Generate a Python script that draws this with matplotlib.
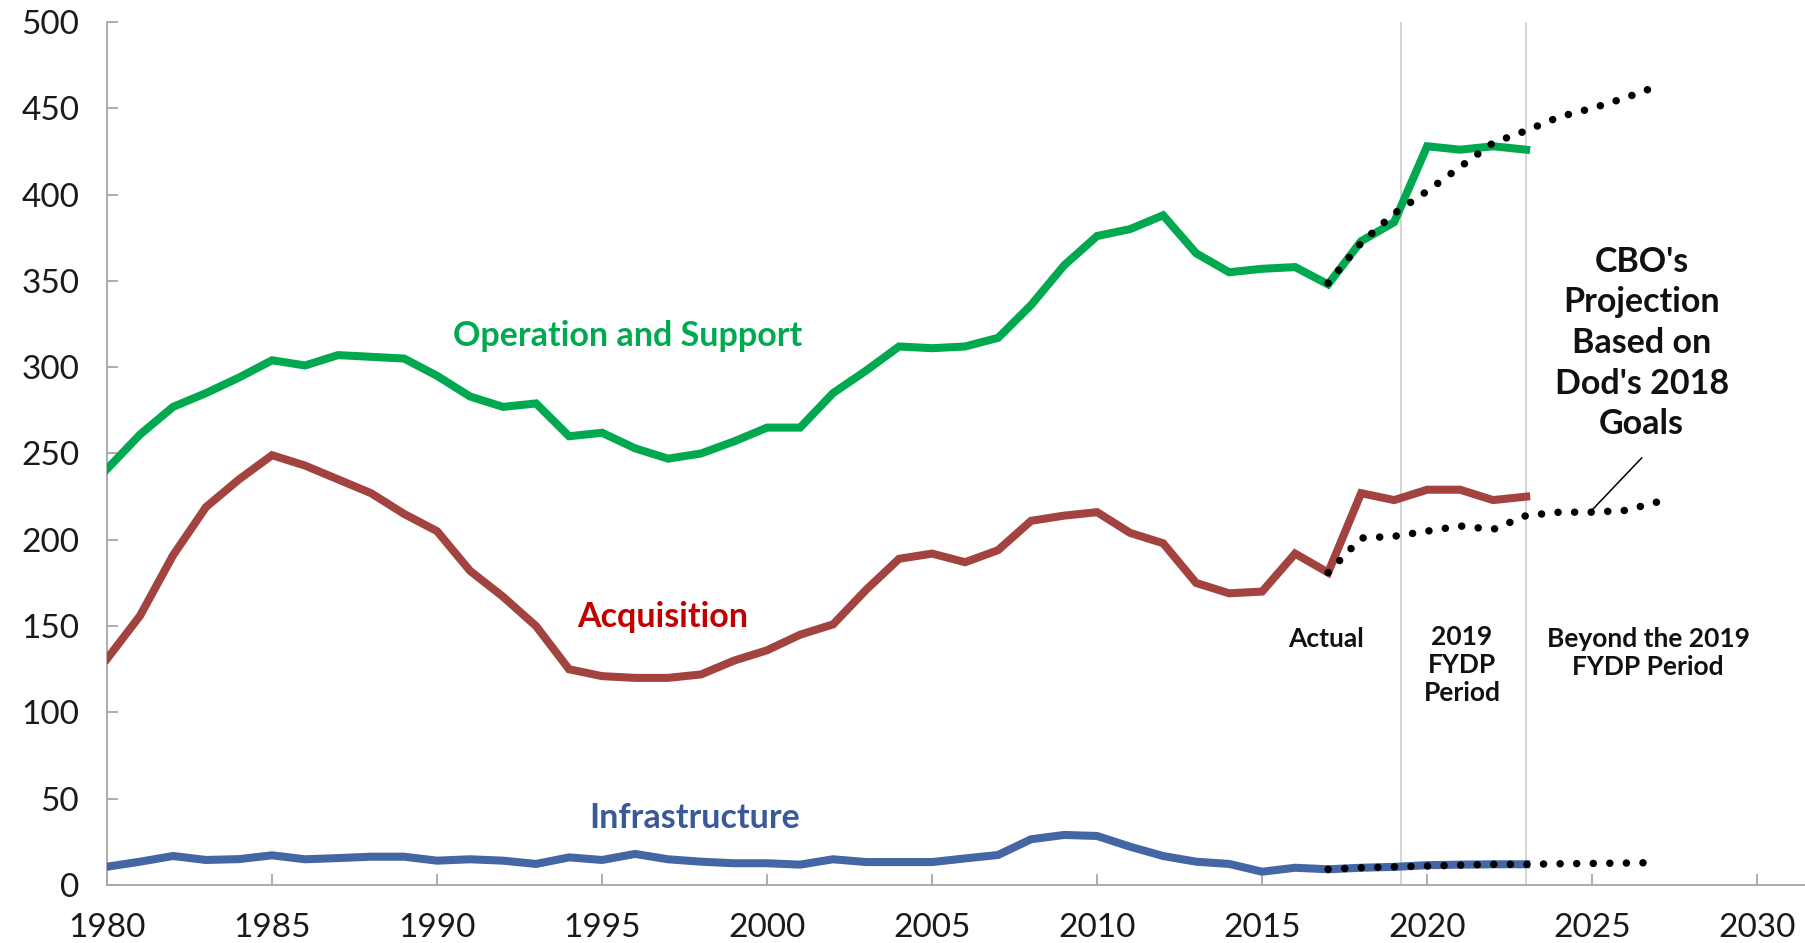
import numpy as np
import matplotlib.pyplot as plt

plt.rcParams['font.family'] = ['Lato', 'DejaVu Sans']

# actual spending, billions of dollars
years = list(range(1980, 2024))
operation_support = [241, 261, 277, 285, 294, 304, 301, 307, 306, 305,
                     295, 283, 277, 279, 260, 262, 253, 247, 250, 257,
                     265, 265, 285, 298, 312, 311, 312, 317, 336, 359,
                     376, 380, 388, 366, 355, 357, 358, 348, 373, 384,
                     428, 426, 428, 426]
acquisition = [131, 156, 191, 219, 235, 249, 243, 235, 227, 215,
               205, 182, 167, 150, 125, 121, 120, 120, 122, 130,
               136, 145, 151, 171, 189, 192, 187, 194, 211, 214,
               216, 204, 198, 175, 169, 170, 192, 181, 227, 223,
               229, 229, 223, 225]
infrastructure = [10.6, 13.5, 16.8, 14.5, 15.0, 17.2, 14.9, 15.6, 16.4, 16.4,
                  14.1, 14.9, 14.1, 12.2, 16.0, 14.5, 18.0, 14.9, 13.5, 12.6,
                  12.6, 11.8, 14.9, 13.3, 13.3, 13.3, 15.4, 17.4, 26.5, 29.0,
                  28.4, 22.2, 16.8, 13.5, 12.2, 7.7, 10.0, 9.1, 10.0, 10.5,
                  11.5, 11.8, 12.0, 12.0]

# CBO projection based on DoD's 2018 goals
proj_years = list(range(2017, 2028))
proj_os = [348.7, 372, 389, 402, 416, 430, 437, 445, 450, 456, 463]
proj_acq = [181, 201, 202, 205, 208, 206, 214, 216, 216, 217, 222]
proj_inf = [9.1, 10.0, 10.5, 11.0, 11.5, 12.0, 12.0, 12.3, 12.5, 12.7, 13.0]

period_lines = [2019.2, 2023.0]

green = '#00A94F'
red = '#A2433F'
blue = '#4466A4'

fig = plt.figure(figsize=(18.05, 9.43), dpi=100)
ax = fig.add_axes([0.0593, 0.0615, 0.9407, 0.9152])

for x in period_lines:
    ax.axvline(x, color='#C8C8C8', lw=1.1, zorder=1)

ax.plot(years, operation_support, color=green, lw=5.8, solid_joinstyle='miter', zorder=3)
ax.plot(years, acquisition, color=red, lw=5.8, solid_joinstyle='miter', zorder=3)
ax.plot(years, infrastructure, color=blue, lw=5.8, solid_joinstyle='miter', zorder=3)

for proj in (proj_os, proj_acq, proj_inf):
    ax.plot(proj_years, proj, color='black', lw=5.4, linestyle=(0, (0.01, 2.2)),
            dash_capstyle='round', zorder=4)

ax.set_xlim(1980, 2031.45)
ax.set_ylim(0, 500)
ax.set_xticks(range(1980, 2031, 5))
ax.set_yticks(range(0, 501, 50))

for side in ('top', 'right'):
    ax.spines[side].set_visible(False)
for side in ('left', 'bottom'):
    ax.spines[side].set_color('#A6A6A6')
    ax.spines[side].set_linewidth(1.3)
ax.tick_params(direction='in', length=8, width=1.3, color='#A6A6A6',
               labelsize=24, labelcolor='#1A1A1A', pad=20)

ax.text(1995.76, 318, 'Operation and Support', color='#00A94F', fontsize=24.5,
        fontweight='bold', ha='center', va='center')
ax.text(1996.85, 155, 'Acquisition', color='#C00000', fontsize=24.5,
        fontweight='bold', ha='center', va='center')
ax.text(1997.8, 39, 'Infrastructure', color='#3B5998', fontsize=24.5,
        fontweight='bold', ha='center', va='center')

ax.text(2026.5, 314, "CBO's\nProjection\nBased on\nDod's 2018\nGoals", fontsize=24.5,
        fontweight='bold', ha='center', va='center', linespacing=1.33, color='#111111')
ax.plot([2026.5, 2025.0], [247.4, 217.3], color='black', lw=1.1, zorder=5)

ax.text(2016.94, 142.5, 'Actual', fontsize=19, fontweight='bold',
        ha='center', va='center', color='#111111')
ax.text(2021.06, 127.5, '2019\nFYDP\nPeriod', fontsize=19, fontweight='bold',
        ha='center', va='center', linespacing=1.2, color='#111111')
ax.text(2026.7, 134.4, 'Beyond the 2019\nFYDP Period', fontsize=19, fontweight='bold',
        ha='center', va='center', linespacing=1.2, color='#111111')

fig.savefig('out.png', dpi=100)
